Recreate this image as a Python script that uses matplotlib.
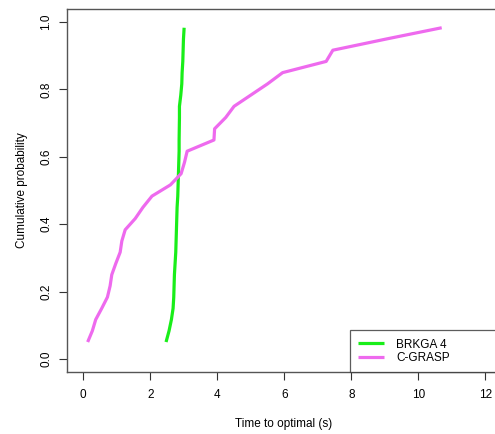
import matplotlib
matplotlib.use("Agg")
import matplotlib.pyplot as plt
import numpy as np

plt.rcParams['font.family'] = ['Liberation Sans', 'DejaVu Sans']

probs = [(i - 0.5) / 30 for i in range(2, 31)]
brkga_times = [2.47, 2.56, 2.63, 2.68, 2.70, 2.71, 2.72, 2.74, 2.76, 2.77,
               2.78, 2.79, 2.80, 2.82, 2.83, 2.84, 2.85, 2.86, 2.86, 2.865,
               2.87, 2.87, 2.91, 2.94, 2.95, 2.97, 2.98, 2.99, 3.01]
cgrasp_times = [0.13, 0.27, 0.37, 0.55, 0.72, 0.80, 0.85, 0.97, 1.10, 1.15,
                1.25, 1.55, 1.78, 2.05, 2.60, 2.92, 3.02, 3.10, 3.90, 3.92,
                4.25, 4.50, 5.00, 5.50, 5.95, 7.25, 7.45, 9.05, 10.70]
series_labels = ["BRKGA 4", "C-GRASP"]
series_colors = ["#19ee19", "#ee6aee"]
xticks = [0, 2, 4, 6, 8, 10, 12]
yticks = [0.0, 0.2, 0.4, 0.6, 0.8, 1.0]

fig = plt.figure(figsize=(4.95, 4.34), dpi=100)
ax = fig.add_axes([67/495, 62/434, 434/495, 363/434])

ax.plot(brkga_times, probs, color=series_colors[0], lw=2.3, label=series_labels[0], solid_capstyle='butt')
ax.plot(cgrasp_times, probs, color=series_colors[1], lw=2.3, label=series_labels[1], solid_capstyle='butt')

ax.set_xlim(-0.487, 12.47)
ax.set_ylim(-0.039, 1.039)
ax.set_xticks(xticks)
ax.set_xticklabels([str(t) for t in xticks])
ax.set_yticks(yticks)
ax.set_yticklabels([f"{t:.1f}" for t in yticks], rotation=90, va='center')
ax.tick_params(axis='both', direction='out', length=5.5, width=0.8, labelsize=8.5, color='#333333')
ax.tick_params(axis='x', pad=7)
ax.tick_params(axis='y', pad=5)
for s in ax.spines.values():
    s.set_color('#555555')
    s.set_linewidth(1.0)

ax.set_xlabel("Time to optimal (s)", fontsize=8.5, labelpad=12)
ax.set_ylabel("Cumulative probability", fontsize=8.5, labelpad=9)

leg = ax.legend(loc='lower left', bbox_to_anchor=(0.652, 0.0, 0.348, 0.1157), mode='expand',
                borderaxespad=0, fancybox=False, frameon=True, fontsize=8.5,
                handlelength=2.2, handletextpad=1.0, labelspacing=0.1, borderpad=0.7)
leg.get_frame().set_edgecolor('#333333')
leg.get_frame().set_linewidth(0.9)

fig.savefig("out.png", dpi=100)
